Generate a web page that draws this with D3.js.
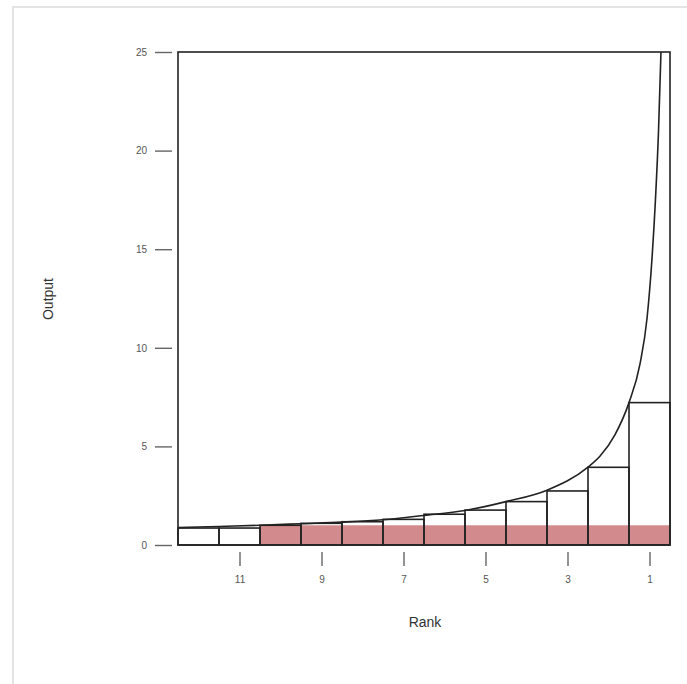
<!DOCTYPE html>
<html>
<head>
<meta charset="utf-8">
<title>Rank vs Output</title>
<script src="https://cdn.jsdelivr.net/npm/d3@7"></script>
<style>
  body { margin: 0; background: #fff; }
  text { font-family: "Liberation Sans", Arial, sans-serif; }
</style>
</head>
<body>
<div id="container" style="width:687px; height:684px"></div>
<script>
// ranks, left to right
var ranks = [12, 11, 10, 9, 8, 7, 6, 5, 4, 3, 2, 1];
// bar heights
var outputs = [0.86, 0.86, 1.0, 1.1, 1.18, 1.3, 1.56, 1.77, 2.2, 2.74, 3.94, 7.22];
// shaded floor level
var shadeLevel = 1;
// curve points: rank position, output
var curveRank = [12.5, 11.5, 10.5, 9.5, 8.5, 7.5, 6.5, 5.5, 4.5, 3.5, 2.5, 2.21, 1.84, 1.5, 1.23, 1.06, 0.94, 0.855, 0.78, 0.72];
var curveOut  = [0.88, 0.94, 1.0, 1.08, 1.16, 1.28, 1.5, 1.75, 2.2, 2.78, 3.95, 4.5, 5.6, 7.22, 9.2, 11.5, 14.5, 17.5, 21, 25];
var yTicks = [0, 5, 10, 15, 20, 25];
var xTicks = [11, 9, 7, 5, 3, 1];

var W = 687, H = 684;
// "top" is taken by window.top, so use other names
var plotLeft = 178, plotRight = 670, plotTop = 52, plotBottom = 545;
var line_color = '#222';
var shade_color = '#d38a8d';

var svg = d3.select('#container').append('svg')
    .attr('width', W).attr('height', H);

// faint outer frame
svg.append('path')
    .attr('d', 'M13,' + H + 'V7H' + W)
    .attr('fill', 'none')
    .attr('stroke', '#e4e4e4')
    .attr('stroke-width', 2);

var xscale = d3.scaleLinear().domain([12.5, 0.5]).range([plotLeft, plotRight]);
var yscale = d3.scaleLinear().domain([0, 25]).range([plotBottom, plotTop]);

// shaded part of each bar
svg.append('g').selectAll('rect')
    .data(ranks.filter(function(r, i) { return outputs[i] >= shadeLevel; }))
    .enter().append('rect')
    .attr('x', function(r) { return xscale(r + 0.5); })
    .attr('width', function(r) { return xscale(r - 0.5) - xscale(r + 0.5); })
    .attr('y', yscale(shadeLevel))
    .attr('height', yscale(0) - yscale(shadeLevel))
    .style('fill', shade_color);

// bar outlines
svg.append('g').selectAll('rect')
    .data(ranks)
    .enter().append('rect')
    .attr('x', function(r) { return xscale(r + 0.5); })
    .attr('width', function(r) { return xscale(r - 0.5) - xscale(r + 0.5); })
    .attr('y', function(r, i) { return yscale(outputs[i]); })
    .attr('height', function(r, i) { return yscale(0) - yscale(outputs[i]); })
    .style('fill', 'none')
    .style('stroke', line_color)
    .style('stroke-width', 1.6);

// the curve
var pts = curveRank.map(function(r, i) { return [r, curveOut[i]]; });
svg.append('path')
    .datum(pts)
    .attr('d', d3.line()
        .x(function(d) { return xscale(d[0]); })
        .y(function(d) { return yscale(d[1]); })
        .curve(d3.curveMonotoneX))
    .attr('fill', 'none')
    .attr('stroke', line_color)
    .attr('stroke-width', 1.6);

// plot box
svg.append('rect')
    .attr('x', plotLeft).attr('y', plotTop)
    .attr('width', plotRight - plotLeft).attr('height', plotBottom - plotTop)
    .attr('fill', 'none')
    .attr('stroke', line_color)
    .attr('stroke-width', 1.6);

// y axis, ticks detached from box
var yAxis = svg.append('g')
    .attr('transform', 'translate(172,0)')
    .call(d3.axisLeft(yscale).tickValues(yTicks).tickSize(17).tickSizeOuter(0).tickPadding(8));
yAxis.select('.domain').remove();
yAxis.selectAll('line').attr('stroke', '#666').attr('stroke-width', 1.4);
yAxis.selectAll('text').attr('fill', '#555').style('font-size', '10px');

// x axis
var xAxis = svg.append('g')
    .attr('transform', 'translate(0,552)')
    .call(d3.axisBottom(xscale).tickValues(xTicks).tickSize(14).tickSizeOuter(0).tickPadding(10));
xAxis.select('.domain').remove();
xAxis.selectAll('line').attr('stroke', '#666').attr('stroke-width', 1.4);
xAxis.selectAll('text').attr('fill', '#555').style('font-size', '10px');

// axis titles
svg.append('text')
    .attr('x', 425).attr('y', 627)
    .attr('text-anchor', 'middle')
    .attr('fill', '#333')
    .style('font-size', '14px')
    .text('Rank');

svg.append('text')
    .attr('transform', 'translate(53,299) rotate(-90)')
    .attr('text-anchor', 'middle')
    .attr('fill', '#333')
    .style('font-size', '14px')
    .text('Output');
</script>
</body>
</html>
